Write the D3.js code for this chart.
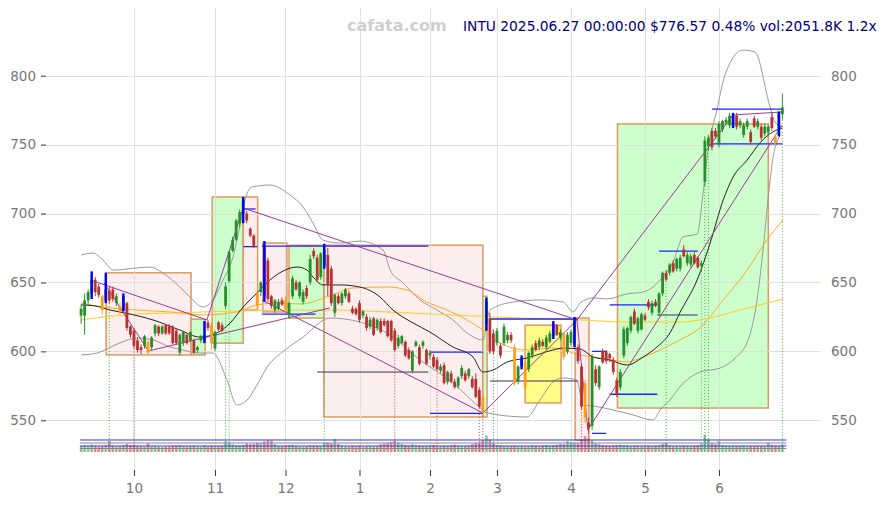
<!DOCTYPE html>
<html><head><meta charset="utf-8">
<script src="https://cdn.jsdelivr.net/npm/d3@7"></script>
<style>body{margin:0;background:#fff}svg{display:block;font-family:"DejaVu Sans",sans-serif}</style>
</head><body><svg id="c" width="886" height="505"></svg>
<script>
// ---------- data ----------
const opens = [626,626,637,642,652,647,640,637,644,645, 635,633,630,635,618,615,608,603,604,607,
603,613,618,613,619,618,618,615,599,606, 612,608,608,601,608,608,621,619,602,621,
619,633,651,673,681,693,700,700,689,684, 642,643,677,666,640,630,631,637,637,626,
640,650,640,636,646,650,673,668,654,662, 670,660,628,640,635,640,642,631,631,635,
626,625,618,624,617,622,622,622,622,615, 604,606,607,601,586,604,603,604,601,597,
596,594,586,590,578,584,578,575,582,584, 582,580,580,572,567,620,624,613,606,604,
606,608,612,603,578,589,592,587,597,606, 603,607,603,607,611,619,610,613,600,606,
605,603,589,577,548,546,587,574,600,600, 598,594,579,574,597,606,615,629,615,616,
626,636,628,636,628,642,657,657,664,660, 660,674,664,663,670,668,662,723,749,760,
760,750,761,766,764,764,771,764,757,763, 759,769,763,763,758,759,770,756,758,772];
const highs = [634,642,645,658,654,649,641,657,647,647, 642,635,642,636,619,617,610,605,612,608,
611,620,619,619,620,620,619,616,613,615, 613,615,609,604,612,622,623,621,615,622,
621,650,673,683,696,703,712,702,690,685, 643,651,680,668,641,638,638,639,640,636,
655,652,651,645,648,670,675,670,672,678, 675,662,642,642,643,646,644,633,632,637,
630,627,625,625,624,624,624,623,623,617, 612,612,608,603,601,608,605,608,602,601,
598,596,591,592,586,586,580,582,590,586, 588,582,584,574,569,639,628,616,617,606,
620,614,614,605,590,597,594,600,605,608, 610,609,612,615,622,620,616,614,614,616,
625,605,591,579,552,598,590,590,602,601, 599,596,581,587,618,618,626,631,625,628,
628,638,637,638,643,658,659,664,666,668, 670,677,672,671,672,669,666,756,757,762,
762,767,768,770,773,773,773,769,766,769, 761,771,769,765,765,764,773,758,774,787];
const lows = [620,612,634,638,640,639,627,635,635,636, 633,627,629,615,610,602,599,598,602,598,
601,611,611,612,612,612,605,605,597,604, 605,607,598,599,606,606,615,601,600,615,
614,631,650,672,680,690,693,693,683,675, 630,640,636,636,631,628,630,633,629,624,
638,644,638,634,638,648,667,650,652,660, 640,633,625,634,633,638,635,627,626,621,
624,615,616,611,615,613,618,610,607,600, 602,605,596,594,584,603,590,602,590,594,
588,586,584,576,576,577,573,573,580,578, 580,573,566,559,553,615,598,598,604,595,
604,606,606,575,576,587,572,585,595,600, 601,603,601,606,609,611,608,594,598,604,
603,591,558,548,541,543,575,572,591,591, 592,583,567,572,595,604,613,619,613,615,
622,630,626,632,626,640,651,655,657,658, 658,668,662,661,663,660,658,720,746,746,
754,748,759,764,762,762,761,762,755,761, 750,762,761,753,756,757,760,749,756,768];
const closes = [631,637,643,652,643,641,630,645,637,638, 640,629,640,617,612,604,601,601,611,599,
610,619,613,618,613,613,606,606,612,614, 606,614,599,603,611,612,617,606,614,616,
615,647,672,681,695,701,710,695,684,676, 633,650,640,638,633,637,636,634,631,635,
653,645,650,643,640,667,669,652,671,674, 648,635,641,635,642,645,636,628,627,623,
629,617,623,612,623,614,619,611,608,601, 610,611,597,595,600,607,591,607,591,599,
589,587,589,577,585,578,574,581,588,579, 587,574,567,560,556,636,600,600,615,597,
618,612,608,577,589,595,574,599,603,601, 608,604,610,613,620,612,614,596,612,614,
622,593,560,552,545,596,577,589,592,593, 595,585,569,585,616,617,625,620,624,627,
623,632,635,633,642,657,652,663,658,667, 668,669,670,669,664,661,664,753,755,748,
756,765,767,768,771,771,763,767,764,767, 752,763,767,755,763,763,762,751,773,777];
const volumes = [1700,1900,1600,2100,1800,1500,1700,2000,3100,1800, 1500,1600,1900,2300,1900,2000,1700,1600,1500,2400,
1600,1700,1500,1400,1600,1500,1700,1800,1900,1600, 1500,1700,1800,1500,1400,1900,1600,1800,1700,1600,
1800,3100,2800,2200,1900,1800,2000,2400,2200,2300, 2600,2500,3000,3400,3300,2200,1700,1600,1800,2000,
2100,1700,1600,1500,1600,1900,1800,1700,1600,2600, 2700,2400,3700,2300,1800,1600,1500,1700,1600,1800,
1500,1600,1700,1500,1600,2200,2400,2600,2900,3200, 2700,2300,2000,1800,2200,1900,1800,1700,1600,1800,
2000,1700,1600,1800,1700,1900,2100,1800,1600,1700, 1900,2200,2600,2700,3300,4700,3600,2600,2000,1900,
1700,1600,1700,1800,1600,1700,1500,1600,1800,1700, 1600,1800,2000,1700,1900,2100,2300,2200,3100,2800,
2700,2500,3600,4500,3900,3300,2400,2200,2000,1800, 1700,1800,2000,2100,1900,1800,1600,1700,1800,1600,
1700,1800,1600,1700,1900,2300,2600,1800,1600,1700, 1600,1800,1700,1600,1800,1900,2400,4900,3600,2500,
2200,3100,2000,1800,1700,1800,1600,1700,1800,1600, 1700,1600,1800,1700,1600,2700,2000,1800,1700,2052];
const blueIdx = [3,7,12,35,46,52,69,115,125,134,140,185,198];
const orangeIdx = [6,11,19,37,50,58,114,123,126,137,143,197];
const upSignalIdx = [8,41,42,69,117,166,176,177,178,199];
const downSignalIdx = [15,89,101,113,114,142,144];
const monthIdx = [15,38,58,79,99,118,139,160,181];
const monthLabels = ['10','11','12','1','2','3','4','5','6'];
const priceTicks = [550,600,650,700,750,800];
const volumeLevels = [[3430,'b'],[2570,'g'],[1710,'b'],[1000,'g']];
const ma20 = [[0,633.7],[3.9,633],[8.2,630],[13.9,627.1],[20.4,622.8],[28,615.5],[33.7,610.4],[38.6,613.4],[42.3,620.6],[46,632.2],[49.9,642.4],[53.6,651.8],[57.3,658.3],[61.3,661.2],[64.1,659],[65.8,654],[68.6,648.2],[73.5,648.2],[79.1,646.7],[84.8,639.5],[88.5,630],[94.2,620.6],[99,614],[105.5,603.2],[111.2,595.9],[114,585],[116.9,586.5],[120.9,592.3],[126.5,595.2],[133.9,601],[136.8,602.4],[141.6,601.7],[145.3,595.9],[150.1,593.7],[154.9,590.1],[159.5,595.9],[163.4,603.2],[167.1,613.4],[169.9,628],[174.8,651.8],[178.5,678.6],[182.2,709.8],[185,726.5],[189,738.8],[192.6,751.2],[196.3,759.2],[199,762.1]];
const bbUpper = [[0,669.9],[3.4,671.3],[6.2,666.3],[9.1,659],[15.8,660.5],[19.6,661.2],[23.2,656.9],[28,646.7],[30.9,639.5],[34.6,632.2],[37.4,637.3],[40.3,651.8],[43.1,668.5],[45.1,691.7],[46.5,709.8],[48.5,719.3],[53.6,720.7],[59.3,713.4],[63,704.7],[65.8,693.1],[68.6,680.8],[73.5,678.6],[79.1,680],[85.7,673.5],[87.7,659],[91.4,649.6],[96.2,637.3],[101,630],[105.5,622.8],[109.5,613.4],[114,608.3],[116,630],[122.6,635.8],[130.2,637.3],[136.8,635.8],[139.6,628.6],[141.6,635.1],[145.3,638.8],[149.2,638],[154.9,641.7],[159.5,643.1],[162.3,646.7],[164.3,651.8],[168,664.8],[170.8,683],[174.8,685.1],[176.5,714.9],[177.9,746.1],[180.4,775.1],[182.7,800.5],[187.8,818.6],[191.2,817.2],[195.5,777.3],[196.9,766.4],[198.9,763]];
const bbLower = [[0,597.4],[4.5,598.8],[11,606.1],[15.8,609.7],[20.4,608.3],[25.2,603.2],[28.9,601],[33.7,598.8],[37.4,598.8],[41.4,579.2],[44.2,561.1],[47.1,564.7],[49.9,575.6],[52.8,588.7],[57.9,601],[63,610.4],[70.6,624.2],[79.1,621.3],[86.8,613.4],[96.2,593.7],[105.5,577.1],[114,557.5],[115.2,555.3],[126.5,552.4],[130.2,564.7],[133.9,577.8],[136.8,580.7],[140.7,579.2],[142.4,561.1],[145.3,560.4],[150.9,557.5],[156.6,553.9],[162.3,550.2],[164.3,557.5],[167.1,564.7],[169.9,574.2],[175.6,585],[181.3,587.9],[185.6,595.2],[189.3,608.3],[191.8,637.3],[193.5,673.5],[194.9,709.8],[196.3,740],[197.8,754],[198.9,758]];
const ma50 = [[0,635.1],[6.2,632.2],[15.8,630],[25.2,628.6],[34.6,626.4],[44.2,628.6],[49.9,633.7],[55.6,635.1],[62.1,634.4],[70.6,640.2],[77.1,646],[86.8,646.7],[92.5,644.5],[98.1,635.8],[103.8,630],[109.5,622.8],[114,615.5],[118.9,606.1],[126.5,601],[133.9,602.4],[141.6,597.4],[145.3,595.9],[150.9,593.7],[154.9,592.3],[159.5,595.9],[164.3,601],[169.9,608.3],[175.6,617],[182.2,637.3],[189,659],[194.6,680.8],[199.2,695.3]];
const ma200 = [[0,622.8],[6.2,624.9],[15.8,627.1],[25.2,627.8],[44.2,629.3],[70.6,630],[86.8,628.6],[105.5,626.4],[124.6,624.2],[141.6,622.8],[154.9,621.3],[169.9,621.3],[175.6,622.8],[187,630],[199.2,638]];
// zones: [startIdx, endIdx, top, bottom, kind]
const zones = [[7.1,31.2,657,597.4,'down'],[31.2,35.2,623.4,597.4,'up'],[37.2,46,712,606,'up'],[46,50.1,712,630,'down'],
[51.6,58.4,678.6,628.6,'down'],[59,68.9,677,624.2,'up'],[68.9,114,677,552.4,'down'],[114,115.2,640,552.4,'up'],
[126,136.2,619,562.6,'flat'],[140.2,144.1,624.2,535.6,'down'],[152.2,195,765,558.9,'up']];
// levels: [startIdx, endIdx, price, kind]
const levels = [[46,49.5,703.3,'b'],[46,50,676,'b'],[51.3,98.5,676.4,'b'],[51.3,66.5,627,'b'],[99,114,599.5,'b'],[99,114,555,'b'],
[116,141,623.5,'b'],[116,141,578.5,'d'],[145,149,600,'b'],[145,149,540.5,'b'],[150,163.5,633.7,'b'],[150,163.5,568.9,'b'],
[163.5,175,626.4,'d'],[164,175,672.7,'b'],[179,199,775.8,'b'],[179,199,750.5,'b'],[67,98.5,585,'d']];
// trend lines: [i0, p0, i1, p1]
const trends = [[3.4,651.1,35.7,622.8],[6.5,649.6,19.1,600.3],[19.1,600.3,70.6,631.5],[35.7,622.8,46,704],[46,704,140.7,622.8],
[51.3,637.3,114,555.3],[114,555.3,140.7,622.8],[140.7,622.8,143.8,543],[140.7,622.8,185,771.5],[143.8,543,198.9,764.2],[185,771.5,198.9,773.7]];
const titleText = 'INTU 2025.06.27 00:00:00 $776.57 0.48% vol:2051.8K 1.2x';
const watermark = 'cafata.com';

// ---------- drawing ----------
const svg = d3.select('#c');
const xs = d3.scaleLinear().domain([0,199]).range([81.1,782.4]);
const ys = d3.scaleLinear().domain([550,800]).range([420.3,75.7]);
const vs = d3.scaleLinear().domain([0,1000]).range([452,448.5]);
const n = closes.length;
const idx = d3.range(n);

// zones
const zoneFill = {down:'#fdeeee', up:'#ccffcc', flat:'#ffff88'};
svg.append('g').selectAll('rect').data(zones).join('rect')
  .attr('x', d=>xs(d[0])).attr('y', d=>ys(d[2]))
  .attr('width', d=>xs(d[1])-xs(d[0])).attr('height', d=>ys(d[3])-ys(d[2]))
  .attr('fill', d=>zoneFill[d[4]]).attr('stroke','#dd9a60').attr('stroke-width',1.5);

// grid
const grid = svg.append('g').attr('stroke','#dcdcdc').attr('stroke-width',1).attr('opacity',0.85);
grid.selectAll('.h').data(priceTicks).join('line')
  .attr('x1',46).attr('x2',821).attr('y1',d=>Math.round(ys(d))+0.5).attr('y2',d=>Math.round(ys(d))+0.5);
grid.selectAll('.v').data(monthIdx).join('line')
  .attr('y1',8).attr('y2',470).attr('x1',d=>Math.round(xs(d))+0.5).attr('x2',d=>Math.round(xs(d))+0.5);

// volume
svg.append('g').selectAll('rect').data(idx).join('rect')
  .attr('x', i=>xs(i)-1.3).attr('width',2.6)
  .attr('y', i=>vs(volumes[i])).attr('height', i=>vs(0)-vs(volumes[i]))
  .attr('fill', i=>closes[i]>=opens[i] ? '#5aa85a' : '#c85a5a').attr('opacity',0.7);
svg.append('g').selectAll('line').data(volumeLevels).join('line')
  .attr('x1',xs(0)-1).attr('x2',xs(199)+4).attr('y1',d=>vs(d[0])).attr('y2',d=>vs(d[0]))
  .attr('stroke',d=>d[1]==='b'?'#3333ff':'#888').attr('stroke-width',1);

// signal dotted lines
svg.append('g').selectAll('line').data(upSignalIdx).join('line')
  .attr('x1',i=>xs(i)).attr('x2',i=>xs(i)).attr('y1',i=>ys(lows[i])).attr('y2',vs(0))
  .attr('stroke','#44aa44').attr('stroke-width',1).attr('stroke-dasharray','1,2');
svg.append('g').selectAll('line').data(downSignalIdx).join('line')
  .attr('x1',i=>xs(i)).attr('x2',i=>xs(i)).attr('y1',i=>ys(lows[i])).attr('y2',vs(0))
  .attr('stroke','#cc4444').attr('stroke-width',1).attr('stroke-dasharray','1,2');

// indicator lines
const ln = d3.line().x(d=>xs(d[0])).y(d=>ys(d[1])).curve(d3.curveMonotoneX);
[[bbUpper,'#999999'],[bbLower,'#999999'],[ma200,'#ffcc22'],[ma50,'#ffaa22'],[ma20,'#222222']].forEach(([d,c])=>{
  svg.append('path').attr('d',ln(d)).attr('fill','none').attr('stroke',c).attr('stroke-width',1);
});

// levels
svg.append('g').selectAll('line').data(levels).join('line')
  .attr('x1',d=>xs(d[0])).attr('x2',d=>xs(d[1])).attr('y1',d=>ys(d[2])).attr('y2',d=>ys(d[2]))
  .attr('stroke',d=>d[3]==='b'?'#2222ff':'#333355').attr('stroke-width',d=>d[3]==='b'?1.3:1);

// trend lines
svg.append('g').selectAll('line').data(trends).join('line')
  .attr('x1',d=>xs(d[0])).attr('y1',d=>ys(d[1])).attr('x2',d=>xs(d[2])).attr('y2',d=>ys(d[3]))
  .attr('stroke','#9a3a9a').attr('stroke-width',1);

// candles
const orangeSet = new Set(orangeIdx);
const cColor = i => orangeSet.has(i) ? '#ff9d1a' : (closes[i]>=opens[i] ? '#2a8c2a' : '#b83232');
const cg = svg.append('g');
cg.selectAll('line').data(idx).join('line')
  .attr('x1',i=>xs(i)).attr('x2',i=>xs(i)).attr('y1',i=>ys(highs[i])).attr('y2',i=>ys(lows[i]))
  .attr('stroke',cColor).attr('stroke-width',1);
cg.selectAll('rect').data(idx).join('rect')
  .attr('x',i=>xs(i)-1.4).attr('width',2.8)
  .attr('y',i=>ys(Math.max(opens[i],closes[i])))
  .attr('height',i=>Math.max(1, ys(Math.min(opens[i],closes[i]))-ys(Math.max(opens[i],closes[i]))))
  .attr('fill',cColor);
svg.append('g').selectAll('rect').data(blueIdx).join('rect')
  .attr('x',i=>xs(i)-1.2).attr('width',2.4)
  .attr('y',i=>ys(highs[i])).attr('height',i=>ys(lows[i])-ys(highs[i]))
  .attr('fill','#0000ff');

// axes
const axL = svg.append('g').attr('transform','translate(46,0)')
  .call(d3.axisLeft(ys).tickValues(priceTicks).tickSize(5).tickPadding(5));
const axR = svg.append('g').attr('transform','translate(821,0)')
  .call(d3.axisRight(ys).tickValues(priceTicks).tickSize(0).tickPadding(10));
const axB = svg.append('g').attr('transform','translate(0,470)')
  .call(d3.axisBottom(xs).tickValues(monthIdx).tickFormat((d,i)=>monthLabels[i]).tickSize(6).tickPadding(7));
[axL,axR,axB].forEach(a=>{
  a.select('.domain').remove();
  a.selectAll('.tick line').attr('stroke','#333');
  a.selectAll('text').attr('fill','#777').attr('font-size','13.5px').attr('font-family','DejaVu Sans, sans-serif');
});

// title
svg.append('text').attr('x',347).attr('y',31).text(watermark)
  .attr('font-size','16px').attr('font-weight','bold').attr('fill','#cfcfcf');
svg.append('text').attr('x',463).attr('y',31).text(titleText)
  .attr('font-size','13.8px').attr('fill','#000080');
</script></body></html>
